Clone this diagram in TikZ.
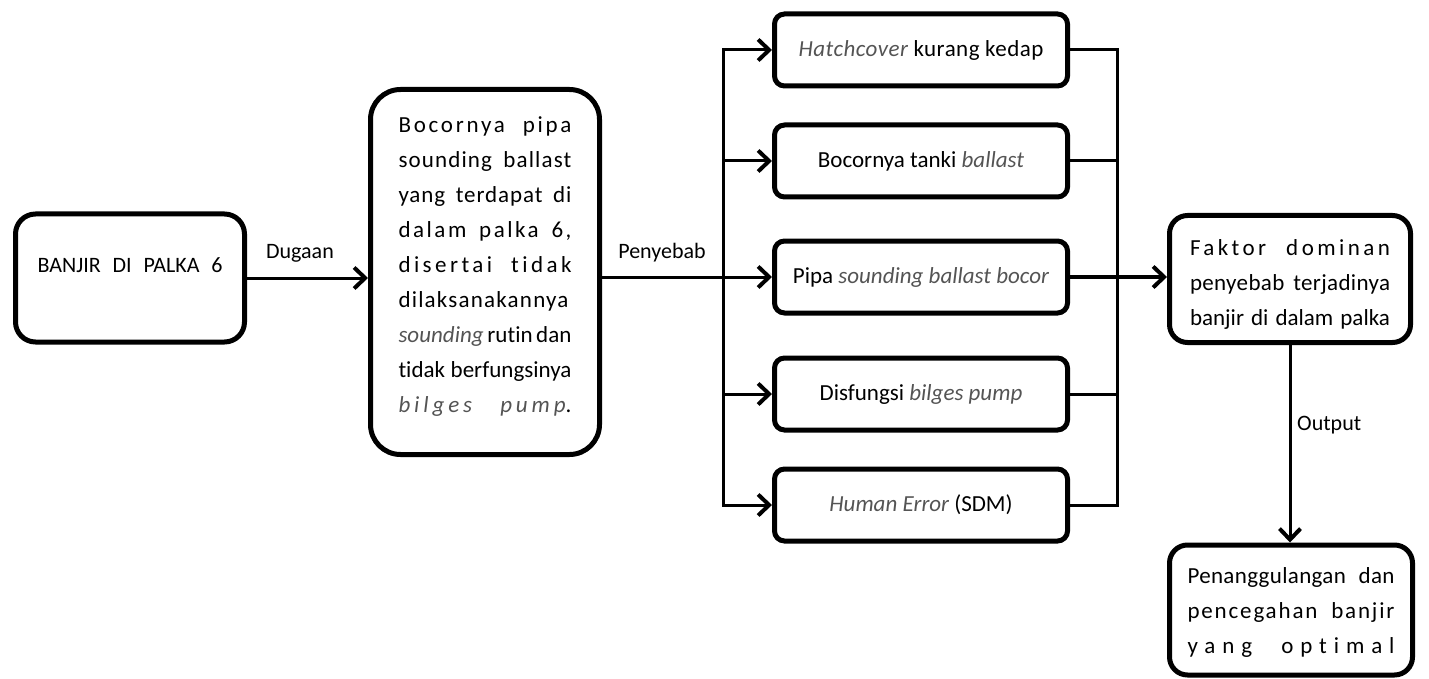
\documentclass[tikz,border=0pt]{standalone}
\usepackage{fontspec}
\setmainfont{Carlito}[Ligatures={NoCommon}]
\usetikzlibrary{arrows.meta}
\definecolor{itgray}{gray}{0.33}
\newcommand\ital[1]{{\itshape\color{itgray}#1}}
\newcommand\jls[3]{\makebox[#1][s]{\addfontfeature{LetterSpace=#2}#3}}
\begin{document}
\begin{tikzpicture}[x=1pt,y=-1pt,
  box/.style={draw, line width=5pt, rounded corners=#1, inner sep=0pt, align=center,
              font=\fontsize{23}{35}\selectfont},
  box/.default=10pt,
  conn/.style={line width=3pt},
  tip/.tip={Straight Barb[length=11pt,width=21pt,line width=4pt]},
  arr/.style={conn,-tip},
  lbl/.style={font=\fontsize{22}{26}\selectfont, inner sep=0pt}]
\useasboundingbox (0,0) rectangle (1429,679);

% boxes
\node[box=20pt, minimum width=229pt, minimum height=128pt] (banjir) at (130,278)
  {\raisebox{6pt}[0pt][0pt]{\fontsize{22}{26}\selectfont\jls{185pt}{0.1}{BANJIR DI PALKA 6}}};

\node[box=30pt, minimum width=229pt, minimum height=365pt] (mid) at (485,272)
  {\parbox{173pt}{\fontsize{23}{35}\selectfont
   \jls{173pt}{12}{Bocornya pipa}\\
   \jls{173pt}{5}{sounding ballast}\\
   \jls{173pt}{4}{yang terdapat di}\\
   \jls{173pt}{11}{dalam palka 6,}\\
   \jls{173pt}{15}{disertai tidak}\\
   \jls{173pt}{5.3}{dilaksanakannya}\\
   \jls{173pt}{0.1}{\ital{sounding} rutin dan}\\
   \jls{173pt}{0.1}{tidak berfungsinya}\\
   \jls{173pt}{17}{\ital{bilges pump}.}\par\vspace{10pt}}};

\node[box=10pt, minimum width=293pt, minimum height=72pt] (c1) at (921,50) {\addfontfeature{LetterSpace=2}\ital{Hatchcover} kurang kedap};
\node[box=10pt, minimum width=293pt, minimum height=72pt] (c2) at (921,161) {Bocornya tanki \ital{ballast}};
\node[box=10pt, minimum width=293pt, minimum height=72pt] (c3) at (921,277) {Pipa \ital{sounding ballast bocor}};
\node[box=10pt, minimum width=293pt, minimum height=72pt] (c4) at (921,394) {Disfungsi \ital{bilges pump}};
\node[box=10pt, minimum width=293pt, minimum height=72pt] (c5) at (921,505) {\ital{Human Error} (SDM)};

\node[box=18pt, minimum width=241pt, minimum height=127pt] (faktor) at (1290,279)
  {\parbox{200pt}{\fontsize{23}{35}\selectfont\vspace{10pt}
   \jls{200pt}{15}{Faktor dominan}\\
   \jls{200pt}{1.5}{penyebab terjadinya}\\
   \jls{200pt}{0.1}{banjir di dalam palka}}};

\node[box=18pt, minimum width=243pt, minimum height=130pt] (tang) at (1291,610)
  {\parbox{207pt}{\fontsize{23}{35}\selectfont\vspace{4pt}
   \jls{207pt}{1.5}{Penanggulangan dan}\\
   \jls{207pt}{8}{pencegahan banjir}\\
   \jls{207pt}{30}{yang optimal}}};

% connectors
\coordinate (bx) at (723,0);
\coordinate (rx) at (1117,0);

\draw[arr] (banjir.east) -- (banjir.east -| mid.west);
\node[lbl] (dug) at (300,253) {Dugaan};

\draw[arr] (mid.east |- c3.west) -- (c3.west);
\node[lbl] (peny) at (662,253) {Penyebab};

\draw[conn, tip-tip] (c1.west) -- (bx |- c1.west) -- (bx |- c5.west) -- (c5.west);
\draw[arr] (bx |- c2.west) -- (c2.west);
\draw[arr] (bx |- c4.west) -- (c4.west);

\draw[conn] (c1.east) -- (rx |- c1.east) -- (rx |- c5.east) -- (c5.east);
\draw[conn] (c2.east) -- (rx |- c2.east);
\draw[conn] (c4.east) -- (rx |- c4.east);
\draw[arr, line width=4.5pt] (c3.east) -- (faktor.west |- c3.east);

\draw[arr] (faktor.south) -- (faktor.south |- tang.north);
\node[lbl, anchor=west] (out) at (1297,425) {Output};
\end{tikzpicture}
\end{document}
